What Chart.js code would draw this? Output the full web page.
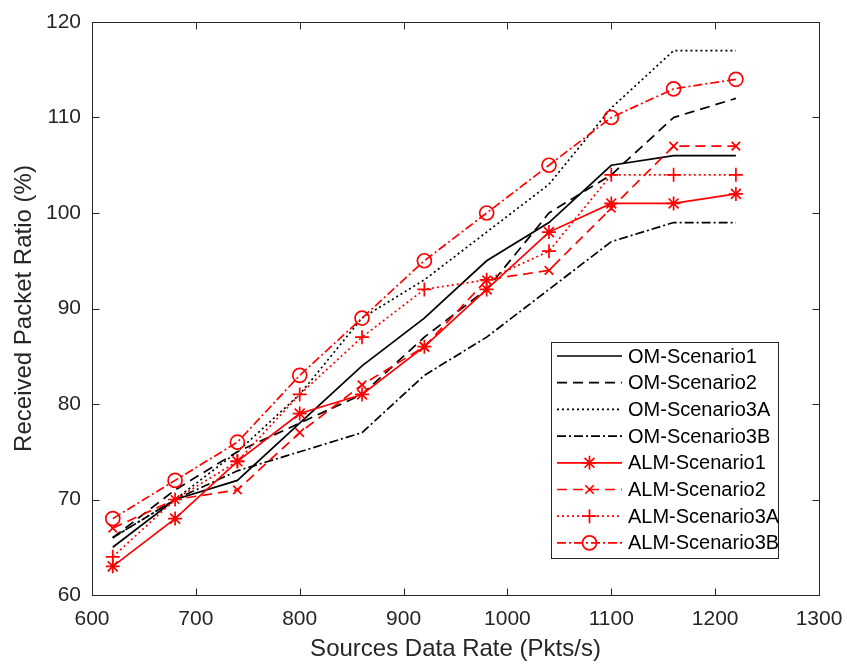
<!DOCTYPE html>
<html>
<head>
<meta charset="utf-8">
<script src="https://cdn.jsdelivr.net/npm/chart.js@4.4.1/dist/chart.umd.min.js"></script>
<style>
  html, body { margin: 0; padding: 0; background: #ffffff; }
  #wrap { width: 847px; height: 666px; position: relative; }
</style>
</head>
<body>
<div id="wrap"><canvas id="c" width="847" height="666"></canvas></div>
<script>
// ---- data ----
const xRates = [620, 680, 740, 800, 860, 920, 980, 1040, 1100, 1160, 1220];
const omScenario1  = [65, 70, 72, 78, 84, 89, 95, 99, 105, 106, 106];
const omScenario2  = [66, 71, 75, 78, 81, 87, 92, 100, 104, 110, 112];
const omScenario3A = [66, 70, 75, 81, 89, 93, 98, 103, 111, 117, 117];
const omScenario3B = [66, 70, 73, 75, 77, 83, 87, 92, 97, 99, 99];
const almScenario1  = [63, 68, 74, 79, 81, 86, 92, 98, 101, 101, 102];
const almScenario2  = [67, 70, 71, 77, 82, 86, 93, 94, 100.5, 107, 107];
const almScenario3A = [64, 70, 74, 81, 87, 92, 93, 96, 104, 104, 104];
const almScenario3B = [68, 72, 76, 83, 89, 95, 100, 105, 110, 113, 114];
const seriesNames = ['OM-Scenario1', 'OM-Scenario2', 'OM-Scenario3A', 'OM-Scenario3B',
                     'ALM-Scenario1', 'ALM-Scenario2', 'ALM-Scenario3A', 'ALM-Scenario3B'];
const xTitle = 'Sources Data Rate (Pkts/s)';
const yTitle = 'Received Packet Ratio (%)';

// ---- styles ----
const BLACK = '#000000', RED = '#ff0000', AXIS = '#262626';
const DASH = [10, 6], DOT = [2, 3], DASHDOT = [9, 3, 2, 3];
const styles = [
  { color: BLACK, dash: [], marker: false },
  { color: BLACK, dash: DASH, marker: false },
  { color: BLACK, dash: DOT, marker: false },
  { color: BLACK, dash: DASHDOT, marker: false },
  { color: RED, dash: [], marker: 'star', r: 7 },
  { color: RED, dash: DASH, marker: 'crossRot', r: 6 },
  { color: RED, dash: DOT, marker: 'cross', r: 7 },
  { color: RED, dash: DASHDOT, marker: 'circle', r: 7 }
];
const seriesValues = [omScenario1, omScenario2, omScenario3A, omScenario3B,
                      almScenario1, almScenario2, almScenario3A, almScenario3B];

const datasets = seriesValues.map((vals, i) => {
  const s = styles[i];
  return {
    label: seriesNames[i],
    data: xRates.map((x, k) => ({ x: x, y: vals[k] })),
    showLine: true,
    borderColor: s.color,
    borderWidth: 1.7,
    borderDash: s.dash,
    tension: 0,
    pointStyle: s.marker || 'circle',
    pointRadius: s.marker ? s.r : 0,
    pointHoverRadius: s.marker ? s.r : 0,
    pointBorderColor: s.color,
    pointBackgroundColor: 'rgba(0,0,0,0)',
    pointBorderWidth: 1.7,
    order: 8 - i
  };
});

const FONT = "'Liberation Sans', Arial, Helvetica, sans-serif";

function drawMarker(ctx, style, r, x, y) {
  ctx.save();
  ctx.setLineDash([]);
  ctx.beginPath();
  if (style === 'star') {
    for (let a = 0; a < 4; a++) {
      const ang = a * Math.PI / 4;
      ctx.moveTo(x - r * Math.cos(ang), y - r * Math.sin(ang));
      ctx.lineTo(x + r * Math.cos(ang), y + r * Math.sin(ang));
    }
  } else if (style === 'crossRot') {
    const d = r * Math.SQRT1_2;
    ctx.moveTo(x - d, y - d); ctx.lineTo(x + d, y + d);
    ctx.moveTo(x - d, y + d); ctx.lineTo(x + d, y - d);
  } else if (style === 'cross') {
    ctx.moveTo(x - r, y); ctx.lineTo(x + r, y);
    ctx.moveTo(x, y - r); ctx.lineTo(x, y + r);
  } else if (style === 'circle') {
    ctx.arc(x, y, r, 0, Math.PI * 2);
  }
  ctx.stroke();
  ctx.restore();
}

const boxPlugin = {
  id: 'matlabBox',
  afterDatasetsDraw(chart) {
    const { ctx, chartArea: a, scales } = chart;
    ctx.save();
    ctx.strokeStyle = AXIS;
    ctx.lineWidth = 1;
    ctx.setLineDash([]);
    const L = Math.round(a.left) + 0.5, R = Math.round(a.right) + 0.5;
    const T = Math.round(a.top) + 0.5, B = Math.round(a.bottom) + 0.5;
    ctx.strokeRect(L, T, R - L, B - T);
    const tl = 7;
    ctx.beginPath();
    scales.x.ticks.forEach(t => {
      const px = Math.round(scales.x.getPixelForValue(t.value)) + 0.5;
      ctx.moveTo(px, B); ctx.lineTo(px, B - tl);
      ctx.moveTo(px, T); ctx.lineTo(px, T + tl);
    });
    scales.y.ticks.forEach(t => {
      const py = Math.round(scales.y.getPixelForValue(t.value)) + 0.5;
      ctx.moveTo(L, py); ctx.lineTo(L + tl, py);
      ctx.moveTo(R, py); ctx.lineTo(R - tl, py);
    });
    ctx.stroke();

    // legend box
    const lx = 551.5, ly = 342.5, lw = 227, lh = 216;
    ctx.fillStyle = '#ffffff';
    ctx.fillRect(lx, ly, lw, lh);
    ctx.strokeStyle = AXIS;
    ctx.strokeRect(lx, ly, lw, lh);
    const rowH = 26.7, y0 = 356;
    ctx.font = '20px ' + FONT;
    ctx.textBaseline = 'middle';
    ctx.textAlign = 'left';
    chart.data.datasets.forEach((ds, i) => {
      const s = styles[i];
      const y = y0 + i * rowH;
      ctx.strokeStyle = s.color;
      ctx.lineWidth = 1.7;
      ctx.setLineDash(s.dash);
      ctx.beginPath();
      ctx.moveTo(557, y); ctx.lineTo(622, y);
      ctx.stroke();
      if (s.marker) drawMarker(ctx, s.marker, s.r, 589.5, y);
      ctx.setLineDash([]);
      ctx.fillStyle = '#000000';
      ctx.fillText(ds.label, 628, y + 1);
    });
    ctx.restore();
  }
};

new Chart(document.getElementById('c'), {
  type: 'scatter',
  data: { datasets: datasets },
  options: {
    responsive: false,
    animation: false,
    devicePixelRatio: 1,
    layout: { padding: { top: 22, right: 28, left: 0, bottom: 0 } },
    plugins: { legend: { display: false }, tooltip: { enabled: false } },
    scales: {
      x: {
        type: 'linear', min: 600, max: 1300,
        afterFit(scale) { scale.height = 71; scale.paddingLeft = 0; scale.paddingRight = 0; },
        grid: { display: false, drawTicks: false },
        border: { display: false },
        ticks: { stepSize: 100, padding: 12, color: AXIS, font: { family: FONT, size: 21 },
                 callback: (v) => String(v) },
        title: { display: true, text: xTitle, color: AXIS, padding: { top: 0, bottom: 2 },
                 font: { family: FONT, size: 24, lineHeight: 1.2 } }
      },
      y: {
        type: 'linear', min: 60, max: 120,
        afterFit(scale) { scale.width = 92; scale.paddingTop = 0; scale.paddingBottom = 0; },
        grid: { display: false, drawTicks: false },
        border: { display: false },
        ticks: { stepSize: 10, padding: 11, color: AXIS, font: { family: FONT, size: 21 },
                 callback: (v) => String(v) },
        title: { display: true, text: yTitle, color: AXIS, padding: { top: 10, bottom: 0 },
                 font: { family: FONT, size: 24, lineHeight: 1.2 } }
      }
    }
  },
  plugins: [boxPlugin]
});
</script>
</body>
</html>
